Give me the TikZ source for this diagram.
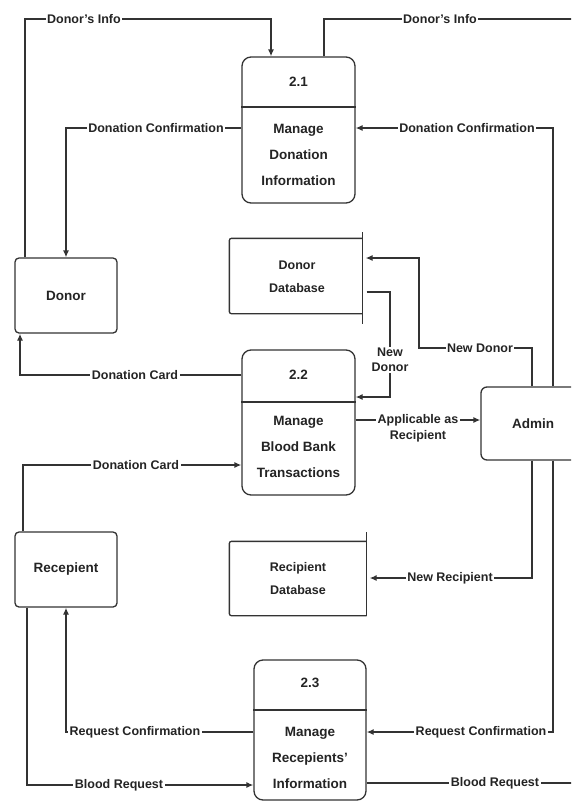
\documentclass[tikz,border=0pt]{standalone}
\usepackage{fontspec}
\setmainfont{Liberation Sans}
\usetikzlibrary{arrows.meta}
\definecolor{ln}{HTML}{333333}
\definecolor{tx}{HTML}{242424}
\tikzset{
  proc/.style={draw=ln, rounded corners=9pt, minimum width=113pt, inner sep=0pt},
  ent/.style={draw=ln, rounded corners=4pt, minimum width=102pt, minimum height=75pt, inner sep=0pt,
    font=\fontsize{13.5}{16}\selectfont\bfseries, text=tx},
  ptxt/.style={font=\fontsize{13.5}{26}\selectfont\bfseries, align=center, text=tx, inner sep=0pt},
  dbtxt/.style={font=\fontsize{12.5}{23}\selectfont\bfseries, align=center, text=tx, inner sep=0pt},
  lbl/.style={fill=white, inner sep=1.5pt, font=\fontsize{12.5}{15}\selectfont\bfseries, text=tx, align=center},
  flow/.style={draw=ln, -{Latex[length=7pt,width=6pt]}},
  plain/.style={draw=ln}
}
\begin{document}
\begin{tikzpicture}[x=1pt,y=-1pt,line width=1.3pt]
\useasboundingbox (0,0) rectangle (571,803);
\fill[white] (0,0) rectangle (571,803);
\clip (0,0) rectangle (571,803);

% processes
\node[proc, minimum height=146pt] (p21) at (298.5,130) {};
\draw[plain] (p21.west|-0,107) -- (p21.east|-0,107);
\node[ptxt] (p21n) at (298.5,82) {2.1};
\node[ptxt] (p21t) at (298.5,155) {Manage\\Donation\\Information};

\node[proc, minimum height=145pt] (p22) at (298.5,422.5) {};
\draw[plain] (p22.west|-0,402) -- (p22.east|-0,402);
\node[ptxt] (p22n) at (298.5,375) {2.2};
\node[ptxt] (p22t) at (298.5,446.5) {Manage\\Blood Bank\\Transactions};

\node[proc, minimum width=112pt, minimum height=140pt] (p23) at (310,730) {};
\draw[plain] (p23.west|-0,710) -- (p23.east|-0,710);
\node[ptxt] (p23n) at (310,683) {2.3};
\node[ptxt] (p23t) at (310,757.5) {Manage\\Recepients'\\Information};

% entities
\node[ent] (donor) at (66,295.5) {Donor};
\node[ent] (recip) at (66,569.5) {Recepient};
\node[ent, rounded corners=6pt, minimum width=104pt, minimum height=73pt] (admin) at (533,423.5) {Admin};

% data stores
\node[minimum width=132pt, minimum height=74pt, inner sep=0pt] (ddb) at (296,276) {};
\draw[plain, rounded corners=2pt] (ddb.north east) -- (ddb.north west) -- (ddb.south west) -- (ddb.south east);
\draw[plain] ([yshift=6pt]ddb.north east) -- ([yshift=-10pt]ddb.south east);
\node[dbtxt] (ddbt) at (297,276.5) {Donor\\Database};

\node[minimum width=136pt, minimum height=73pt, inner sep=0pt] (rdb) at (298,578.5) {};
\draw[plain, rounded corners=2pt] (rdb.north east) -- (rdb.north west) -- (rdb.south west) -- (rdb.south east);
\draw[plain] ([yshift=9pt]rdb.north east) -- (rdb.south east);
\node[dbtxt] (rdbt) at (298,578.5) {Recipient\\Database};

\coordinate (eA) at (576,19);
\coordinate (eB) at (576,783);

% connectors
\draw[flow] (donor.north-|25,0) -- (25,19) -- (271,19) -- (p21.north-|271,0);
\draw[flow] (p21.west|-0,128) -- (66,128) -- (donor.north-|66,0);
\draw[plain] (p21.north-|324,0) -- (324,19) -- (eA);
\draw[flow] (admin.north-|553,0) -- (553,128) -- (p21.east|-0,128);
\draw[flow, shorten >=3pt] (admin.north-|532,0) -- (532,348) -- (419,348) -- (419,258) -- (ddb.east|-0,258);
\draw[flow, shorten <=4pt] (ddb.east|-0,292) -- (390,292) -- (390,397) -- (p22.east|-0,397);
\draw[flow] (p22.west|-0,375) -- (20,375) -- (donor.south-|20,0);
\draw[flow] (recip.north-|23,0) -- (23,465) -- (p22.west|-0,465);
\draw[flow] (p22.east|-0,420) -- (admin.west|-0,420);
\draw[flow, shorten >=3pt] (admin.south-|532,0) -- (532,578) -- (rdb.east|-0,578);
\draw[flow] (admin.south-|553,0) -- (553,732) -- (p23.east|-0,732);
\draw[flow] (p23.west|-0,732) -- (66,732) -- (recip.south-|66,0);
\draw[flow] (recip.south-|27,0) -- (27,785) -- (p23.west|-0,785);
\draw[plain] (p23.east|-0,783) -- (eB);

% labels
\node[lbl] (l1) at (84,19) {Donor's Info};
\node[lbl] (l2) at (156,128) {Donation Confirmation};
\node[lbl] (l3) at (440,19) {Donor's Info};
\node[lbl] (l4) at (467,128) {Donation Confirmation};
\node[lbl] (l5) at (480,348) {New Donor};
\node[lbl] (l6) at (390,360) {New\\Donor};
\node[lbl] (l7) at (135,375) {Donation Card};
\node[lbl] (l8) at (136,465) {Donation Card};
\node[lbl, font=\fontsize{12.5}{16}\selectfont\bfseries] (l9) at (418,428) {Applicable as\\Recipient};
\node[lbl] (l10) at (450,578) {New Recipient};
\node[lbl] (l11) at (481,732) {Request Confirmation};
\node[lbl] (l12) at (135,732) {Request Confirmation};
\node[lbl] (l13) at (119,785) {Blood Request};
\node[lbl] (l14) at (495,783) {Blood Request};
\end{tikzpicture}
\end{document}
